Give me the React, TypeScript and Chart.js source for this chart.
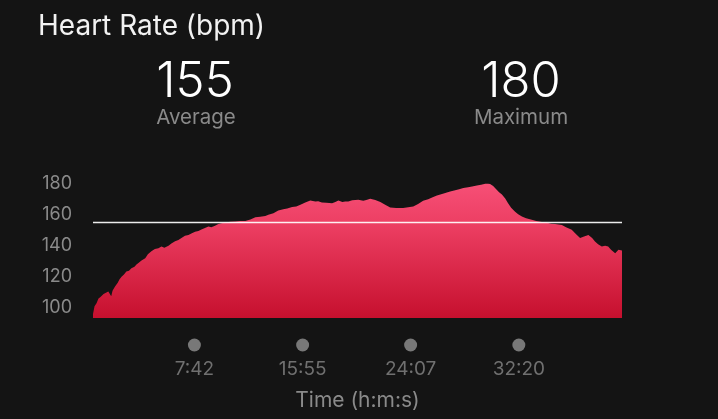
import React, { useEffect, useRef } from "react";
import { Chart, registerables } from "chart.js";

Chart.register(...registerables);

const TITLE = "Heart Rate (bpm)";
const AVERAGE_BPM = 155;
const MAXIMUM_BPM = 180;
const AVERAGE_LABEL = "Average";
const MAXIMUM_LABEL = "Maximum";
const X_AXIS_TITLE = "Time (h:m:s)";
const DURATION_SECONDS = 2410;

// elapsed seconds
const timeSeconds = [
  0, 7, 16, 25, 34, 48, 61, 70, 83, 89, 101, 112, 121, 130, 141, 152, 164, 175, 189, 198,
  207, 221, 238, 250, 266, 282, 298, 312, 325, 344, 357, 374, 389, 403, 419, 435, 448, 465, 480, 494,
  510, 526, 539, 556, 571, 585, 603, 626, 649, 671, 694, 717, 740, 762, 785, 799, 822, 844, 867, 885,
  907, 926, 945, 967, 990, 1013, 1026, 1043, 1063, 1089, 1104, 1118, 1136, 1149, 1163, 1181, 1209, 1231, 1245, 1263,
  1286, 1309, 1331, 1354, 1381, 1413, 1436, 1459, 1481, 1504, 1527, 1550, 1567, 1586, 1605, 1627, 1650, 1668, 1687, 1709,
  1727, 1749, 1768, 1787, 1800, 1809, 1823, 1837, 1850, 1863, 1878, 1891, 1905, 1923, 1937, 1954, 1973, 1999, 2019, 2045,
  2064, 2087, 2105, 2136, 2155, 2181, 2201, 2219, 2237, 2257, 2274, 2287, 2301, 2318, 2333, 2347, 2360, 2379, 2394, 2410,
];

// heart rate (bpm)
const heartRate = [
  96, 101, 103, 106, 107, 109, 110, 110.5, 107.5, 111, 114, 116, 118.5, 120, 121.5, 123.5, 124, 125.5, 126.5, 128,
  129, 130.5, 132, 134.5, 136.5, 138, 138.5, 139.5, 138.8, 140, 141.5, 143, 143.8, 145, 146.5, 147, 148, 149, 149.5, 150.5,
  151.5, 152.5, 152, 153, 154, 154.5, 155, 155.5, 155.7, 156, 156, 157, 158.5, 158.8, 159.3, 160, 161, 162.8, 163.5, 164,
  165, 165.3, 166.5, 168, 169.2, 168.5, 168.8, 168, 167.8, 167.5, 168.2, 169.2, 168.3, 168.6, 168.6, 169.3, 169.7, 169, 169.5, 170.3,
  169.5, 168.2, 166.5, 164.7, 164.3, 164.3, 164.8, 165.4, 167, 169, 170, 171.5, 172.5, 173.2, 174, 175, 175.8, 176.5, 177.2, 177.8,
  178.3, 178.9, 179.3, 180, 180, 179.8, 178.5, 176.5, 174.5, 173, 170.5, 167.5, 164.5, 162, 160.3, 158.9, 157.8, 156.8, 156, 155.3,
  155, 154.3, 154, 153.5, 152, 150.3, 147.5, 145, 146, 147, 145, 142.8, 141, 139.5, 140, 139.5, 137.5, 135.3, 137.4, 137,
];

const xTickSeconds = [462, 955, 1447, 1940];
const yTickValues = [100, 120, 140, 160, 180];
const Y_MIN = 93.5;
const Y_MAX = 185;

const FONT = "Inter, 'Noto Sans', sans-serif";

function formatTime(total: number): string {
  const h = Math.floor(total / 3600);
  const m = Math.floor((total % 3600) / 60);
  const s = Math.round(total % 60);
  const ss = s < 10 ? "0" + s : String(s);
  if (h > 0) return `${h}:${m < 10 ? "0" + m : m}:${ss}`;
  return `${m}:${ss}`;
}

const overlayPlugin = {
  id: "overlay",
  afterDraw(chart: any) {
    const c = chart.ctx as CanvasRenderingContext2D;
    const xs = chart.scales.x;
    c.save();
    // dots above time ticks
    c.fillStyle = "#787878";
    for (const v of xTickSeconds) {
      const px = xs.getPixelForValue(v);
      c.beginPath();
      c.arc(px, 345, 6.5, 0, Math.PI * 2);
      c.fill();
    }
    // title
    c.textBaseline = "alphabetic";
    c.fillStyle = "#f2f2f2";
    c.textAlign = "left";
    c.font = `400 28px ${FONT}`;
    c.fillText(TITLE, 38, 35);
    // stats
    c.textAlign = "center";
    c.font = `300 49px ${FONT}`;
    c.fillStyle = "#ffffff";
    c.fillText(String(AVERAGE_BPM), 195, 97);
    c.fillText(String(MAXIMUM_BPM), 521, 97);
    c.font = `400 20.5px ${FONT}`;
    c.fillStyle = "#8a8a8a";
    c.fillText(AVERAGE_LABEL, 196, 124);
    c.fillText(MAXIMUM_LABEL, 521, 124);
    c.restore();
  },
};

export default function App() {
  const ref = useRef<HTMLCanvasElement | null>(null);

  useEffect(() => {
    if (!ref.current) return;
    const hrPoints = timeSeconds.map((t, i) => ({ x: t, y: heartRate[i] }));
    const avgPoints = [
      { x: 0, y: AVERAGE_BPM },
      { x: DURATION_SECONDS, y: AVERAGE_BPM },
    ];
    const chart = new Chart(ref.current, {
      type: "line",
      data: {
        datasets: [
          {
            label: "Average",
            data: avgPoints,
            borderColor: "rgba(255,255,255,0.92)",
            borderWidth: 1.5,
            pointRadius: 0,
            fill: false,
            order: 0,
          },
          {
            label: "Heart Rate",
            data: hrPoints,
            borderWidth: 0,
            borderColor: "rgba(0,0,0,0)",
            pointRadius: 0,
            tension: 0,
            fill: "start",
            order: 1,
            backgroundColor: (ctx: any) => {
              const area = ctx.chart.chartArea;
              if (!area) return "#e03050";
              const g = ctx.chart.ctx.createLinearGradient(0, area.top, 0, area.bottom);
              g.addColorStop(0, "#f8527a");
              g.addColorStop(0.35, "#ec3e62");
              g.addColorStop(1, "#c6102e");
              return g;
            },
          },
        ],
      },
      options: {
        animation: false,
        responsive: false,
        devicePixelRatio: 1,
        layout: { padding: { top: 176, right: 96, left: 0, bottom: 0 } },
        plugins: {
          legend: { display: false },
          tooltip: { enabled: false },
        },
        scales: {
          x: {
            type: "linear",
            min: 0,
            max: DURATION_SECONDS,
            grid: { display: false, drawTicks: false },
            border: { display: false },
            afterBuildTicks: (scale: any) => {
              scale.ticks = xTickSeconds.map((v) => ({ value: v }));
            },
            afterFit: (scale: any) => {
              scale.height = 101;
            },
            ticks: {
              autoSkip: false,
              maxRotation: 0,
              padding: 40,
              color: "#707070",
              font: { family: FONT, size: 19 },
              callback: (v: any) => formatTime(Number(v)),
            },
            title: {
              display: true,
              text: X_AXIS_TITLE,
              color: "#8a8a8a",
              font: { family: FONT, size: 21 },
              padding: { top: 0, bottom: 6 },
            },
          },
          y: {
            type: "linear",
            min: Y_MIN,
            max: Y_MAX,
            grid: { display: false, drawTicks: false },
            border: { display: false },
            afterBuildTicks: (scale: any) => {
              scale.ticks = yTickValues.map((v) => ({ value: v }));
            },
            afterFit: (scale: any) => {
              scale.width = 93;
            },
            ticks: {
              padding: 21,
              color: "#8a8a8a",
              font: { family: FONT, size: 18 },
            },
          },
        },
      },
      plugins: [overlayPlugin],
    });
    return () => chart.destroy();
  }, []);

  return (
    <div
      style={{
        position: "fixed",
        left: 0,
        top: 0,
        width: 718,
        height: 419,
        background: "#141414",
      }}
    >
      <canvas ref={ref} width={718} height={419} style={{ display: "block" }} />
    </div>
  );
}
